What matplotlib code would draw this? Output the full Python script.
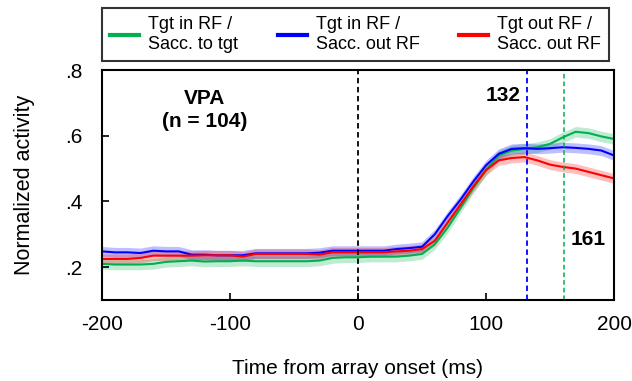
import matplotlib
matplotlib.use("Agg")
import matplotlib.pyplot as plt
import numpy as np

plt.rcParams['font.family'] = ['Liberation Sans', 'DejaVu Sans']
plt.rcParams['axes.unicode_minus'] = False

time_ms = [-200, -190, -180, -170, -160, -150, -140, -130, -120, -110, -100, -90, -80, -70, -60,
           -50, -40, -30, -20, -10, 0, 10, 20, 30, 40, 50, 60, 70, 80, 90, 100, 110, 120, 130,
           140, 150, 160, 170, 180, 190, 200]

green_tgt_in_sacc_tgt = [.210, .208, .208, .208, .210, .216, .218, .220, .217, .218, .218, .220, .218,
                         .218, .218, .218, .218, .220, .228, .230, .230, .232, .232, .232, .235, .240,
                         .270, .320, .380, .440, .495, .540, .555, .560, .565, .575, .595, .612, .608,
                         .598, .590]
blue_tgt_in_sacc_out = [.248, .245, .245, .243, .250, .248, .248, .238, .238, .236, .236, .236, .242,
                        .242, .242, .242, .242, .244, .250, .250, .250, .250, .250, .255, .258, .262,
                        .300, .355, .405, .460, .510, .545, .560, .562, .560, .562, .565, .563, .560,
                        .555, .540]
red_tgt_out_sacc_out = [.225, .225, .225, .228, .235, .235, .235, .235, .236, .236, .236, .232, .240,
                        .240, .240, .240, .240, .238, .245, .245, .245, .245, .245, .248, .250, .255,
                        .280, .335, .390, .445, .495, .525, .532, .535, .525, .512, .505, .500, .490,
                        .480, .470]
sem = {'green': 0.016, 'blue': 0.015, 'red': 0.015}

legend_labels = ["Tgt in RF /\nSacc. to tgt", "Tgt in RF /\nSacc. out RF", "Tgt out RF /\nSacc. out RF"]
xticks = [-200, -100, 0, 100, 200]
yticks = [0.2, 0.4, 0.6, 0.8]
ytick_labels = ['.2', '.4', '.6', '.8']
marker_times = {'blue': 132, 'green': 161}

colors = {'green': '#00b050', 'blue': '#0000ff', 'red': '#ff0000'}

fig = plt.figure(figsize=(6.32, 3.81), dpi=100)
ax = fig.add_axes([102/632, 1 - 300/381, 512/632, 230/381])

t = np.array(time_ms)
handles = []
for key, vals in [('green', green_tgt_in_sacc_tgt), ('blue', blue_tgt_in_sacc_out), ('red', red_tgt_out_sacc_out)]:
    v = np.array(vals)
    ax.fill_between(t, v - sem[key], v + sem[key], color=colors[key], alpha=0.25, lw=0)
    h, = ax.plot(t, v, color=colors[key], lw=1.5)
    handles.append(h)

ax.axvline(0, color='black', ls=(0, (3, 2)), lw=1.3)
ax.axvline(marker_times['blue'], color=colors['blue'], ls=(0, (3, 2)), lw=1.3)
ax.axvline(marker_times['green'], color=colors['green'], ls=(0, (3, 2)), lw=1.1)

ax.set_xlim(-200, 200)
ax.set_ylim(0.1, 0.8)
ax.set_xticks(xticks)
ax.set_yticks(yticks)
ax.set_yticklabels(ytick_labels)
ax.tick_params(direction='in', labelsize=15, length=5, width=1.2)
ax.tick_params(axis='x', pad=11)
ax.tick_params(axis='y', pad=14)
for s in ax.spines.values():
    s.set_linewidth(1.5)

ax.set_xlabel('Time from array onset (ms)', fontsize=15, labelpad=18)
ax.set_ylabel('Normalized activity', fontsize=15.5, labelpad=22)

ax.text(-120, 0.678, 'VPA\n(n = 104)', ha='center', va='center', fontsize=15,
        fontweight='bold', linespacing=1.25)
ax.text(127, 0.722, '132', ha='right', va='center', fontsize=15, fontweight='bold')
ax.text(166, 0.283, '161', ha='left', va='center', fontsize=15, fontweight='bold')

leg = fig.legend(handles, legend_labels, ncol=3, loc='upper left',
                 bbox_to_anchor=(102/632, 1 - 8/381),
                 fontsize=13, frameon=True, fancybox=False, edgecolor='black',
                 handlelength=1.6, handletextpad=0.5, borderaxespad=0, borderpad=0.45,
                 columnspacing=2.2, labelspacing=0.3)
leg.get_frame().set_linewidth(1.5)
for lh in leg.get_lines():
    lh.set_linewidth(3)

fig.savefig('out.png', dpi=100)
